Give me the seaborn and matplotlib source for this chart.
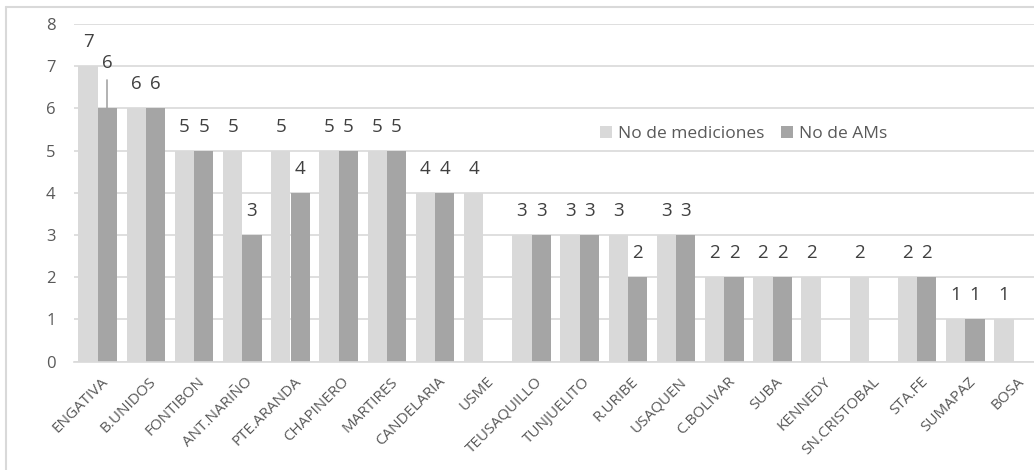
import matplotlib
matplotlib.use("Agg")
import matplotlib.pyplot as plt
import matplotlib.transforms as mtransforms
from matplotlib.lines import Line2D
import seaborn as sns
import pandas as pd
from matplotlib.ticker import FixedLocator

categories = ["ENGATIVA", "B.UNIDOS", "FONTIBON", "ANT.NARIÑO", "PTE.ARANDA", "CHAPINERO",
              "MARTIRES", "CANDELARIA", "USME", "TEUSAQUILLO", "TUNJUELITO", "R.URIBE",
              "USAQUEN", "C.BOLIVAR", "SUBA", "KENNEDY", "SN.CRISTOBAL", "STA.FE",
              "SUMAPAZ", "BOSA"]
mediciones = [7, 6, 5, 5, 5, 5, 5, 4, 4, 3, 3, 3, 3, 2, 2, 2, 2, 2, 1, 1]
ams = [6, 6, 5, 3, 4, 5, 5, 4, 0, 3, 3, 2, 3, 2, 2, 0, 0, 2, 1, 0]
series_names = ["No de mediciones", "No de AMs"]
y_ticks = [0, 1, 2, 3, 4, 5, 6, 7, 8]

df = pd.DataFrame({
    "cat": categories * 2,
    "val": mediciones + ams,
    "serie": [series_names[0]] * len(categories) + [series_names[1]] * len(categories),
})

sns.set_style("white")
plt.rcParams["font.family"] = ["Open Sans", "DejaVu Sans"]
txt = "#595959"
lbl = "#404040"
grid = "#D9D9D9"

W, H = 1034, 470
fig = plt.figure(figsize=(W / 100, H / 100), dpi=100)
x0, x1, ytop, ybot = 73.6, 1037.6, 24.0, 361.7
ax = fig.add_axes([x0 / W, 1 - ybot / H, (x1 - x0) / W, (ybot - ytop) / H])

sns.barplot(data=df, x="cat", y="val", hue="serie", order=categories,
            hue_order=series_names, palette=["#D9D9D9", "#A5A5A5"],
            width=0.8, saturation=1, ax=ax, legend=True, linewidth=0)

ax.set_ylim(0, 8)
ax.set_xlim(-0.5, len(categories) - 0.5)
ax.set_yticks(y_ticks)
ax.yaxis.grid(True, color=grid, linewidth=1.2)
ax.set_axisbelow(True)
for s in ["top", "right", "left"]:
    ax.spines[s].set_visible(False)
ax.spines["bottom"].set_color(grid)
ax.spines["bottom"].set_linewidth(1.2)
ax.set_xlabel("")
ax.set_ylabel("")

ax.tick_params(axis="y", length=0, labelsize=12, labelcolor=txt, pad=13)
ax.tick_params(axis="x", which="major", length=0, labelsize=11, labelcolor=txt, pad=9)
ax.xaxis.set_minor_locator(FixedLocator([i - 0.5 for i in range(len(categories) + 1)]))
ax.tick_params(axis="x", which="minor", length=5, color=grid, width=1.2)
shift = mtransforms.ScaledTranslation(3 / 100, 0, fig.dpi_scale_trans)
for lab in ax.get_xticklabels():
    lab.set_rotation(45)
    lab.set_ha("right")
    lab.set_rotation_mode("anchor")
    lab.set_transform(lab.get_transform() + shift)

# value labels
for hi, vals in enumerate([mediciones, ams]):
    off = -0.2 if hi == 0 else 0.2
    for i, v in enumerate(vals):
        if v == 0:
            continue
        if hi == 1 and i == 0:
            ax.text(i + off, v + 1.08, str(v), ha="center", va="center", fontsize=13.5, color=lbl)
            ax.plot([i + off, i + off], [v, v + 0.68], color="#A5A5A5", linewidth=1.2)
            continue
        ax.text(i + off, v + 0.57, str(v), ha="center", va="center", fontsize=13.5, color=lbl)

leg = ax.legend(loc="center", bbox_to_anchor=(0.695, 0.674), ncol=2, frameon=False,
                fontsize=12.5, handlelength=0.7, handleheight=0.7, handletextpad=0.3,
                columnspacing=1.0, labelcolor=txt, borderpad=0, borderaxespad=0)

# outer frame (top and left visible)
fig.add_artist(Line2D([6 / W, 1], [1 - 7 / H, 1 - 7 / H], transform=fig.transFigure,
                      color=grid, linewidth=1.5))
fig.add_artist(Line2D([6 / W, 6 / W], [0, 1 - 7 / H], transform=fig.transFigure,
                      color=grid, linewidth=1.5))

fig.savefig("out.png", dpi=100)
